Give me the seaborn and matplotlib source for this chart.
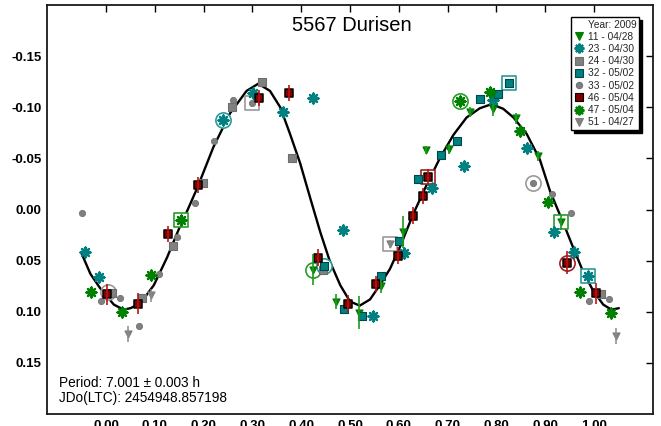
import numpy as np
import pandas as pd
import matplotlib
matplotlib.use("Agg")
import matplotlib.pyplot as plt
import seaborn as sns
from matplotlib.lines import Line2D

# ---------------- data ----------------
title = "5567 Durisen"
legend_title = "Year: 2009"
labels = ["11 - 04/28", "23 - 04/30", "24 - 04/30", "32 - 05/02",
          "33 - 05/02", "46 - 05/04", "47 - 05/04", "51 - 04/27"]

x11 = [0.425, 0.471, 0.518, 0.564, 0.608, 0.655, 0.702, 0.746, 0.794, 0.840, 0.885, 0.933]
y11 = [0.059, 0.090, 0.101, 0.075, 0.022, -0.058, -0.059, -0.095, -0.098, -0.089, -0.052, 0.012]
e11 = [0.015, 0.007, 0.016, 0.007, 0.016, 0.004, 0.005, 0.005, 0.007, 0.005, 0.005, 0.008]

x23 = [-0.044, -0.014, 0.239, 0.301, 0.363, 0.424, 0.485, 0.548, 0.610, 0.669, 0.733, 0.794,
       0.862, 0.919, 0.959, 0.988]
y23 = [0.042, 0.066, -0.088, -0.114, -0.095, -0.109, 0.020, 0.104, 0.043, -0.021, -0.043, -0.107,
       -0.060, 0.022, 0.042, 0.065]

x24 = [0.012, 0.074, 0.137, 0.198, 0.258, 0.320, 0.382, 0.444, 1.014]
y24 = [0.082, 0.087, 0.036, -0.026, -0.100, -0.125, -0.050, 0.059, 0.083]

x32 = [0.447, 0.488, 0.525, 0.564, 0.601, 0.640, 0.686, 0.720, 0.766, 0.804, 0.826]
y32 = [0.055, 0.097, 0.104, 0.065, 0.031, -0.030, -0.053, -0.067, -0.108, -0.113, -0.124]

x33 = [-0.049, -0.010, 0.029, 0.068, 0.108, 0.145, 0.183, 0.222, 0.260, 0.300, 0.876, 0.915,
       0.953, 0.990, 1.030]
y33 = [0.003, 0.089, 0.087, 0.114, 0.063, 0.027, -0.006, -0.067, -0.107, -0.104, -0.026, -0.015,
       0.003, 0.089, 0.088]

x46 = [0.002, 0.066, 0.126, 0.188, 0.313, 0.374, 0.434, 0.496, 0.553, 0.599, 0.630, 0.650,
       0.659, 0.945, 1.005]
y46 = [0.083, 0.092, 0.024, -0.024, -0.109, -0.114, 0.047, 0.092, 0.073, 0.045, 0.006, -0.013,
       -0.032, 0.052, 0.082]
e46 = [0.010, 0.010, 0.008, 0.008, 0.008, 0.008, 0.008, 0.008, 0.008, 0.008, 0.008, 0.008,
       0.008, 0.011, 0.010]

x47 = [-0.030, 0.033, 0.093, 0.154, 0.725, 0.787, 0.848, 0.906, 0.971, 1.035]
y47 = [0.081, 0.100, 0.064, 0.010, -0.106, -0.115, -0.077, -0.007, 0.081, 0.101]

x51 = [0.045, 0.092, 0.582, 1.046]
y51 = [0.122, 0.084, 0.034, 0.124]
e51 = [0.008, 0.006, 0.004, 0.008]

# first-point rings
ring_x = [0.239, 0.300, 0.154, 0.725, 0.826, 0.876, 0.659, 0.582, 0.933, 0.945, 0.988, 0.425, 0.447, 0.004]
ring_y = [-0.088, -0.104, 0.010, -0.106, -0.124, -0.026, -0.032, 0.034, 0.012, 0.052, 0.065, 0.059, 0.055, 0.081]
ring_session = ["23", "33", "47", "47", "32", "33", "46", "51", "11", "46", "23", "11", "32", "24"]
ring_shape = ["o", "s", "s", "o", "s", "o", "s", "s", "s", "o", "s", "o", "o", "o"]

# fitted curve
curve_x = [-0.051, -0.032, -0.012, 0.016, 0.036, 0.050, 0.070, 0.098, 0.125, 0.152, 0.162, 0.186,
           0.220, 0.254, 0.288, 0.312, 0.336, 0.357, 0.377, 0.398, 0.418, 0.439, 0.459, 0.480,
           0.500, 0.520, 0.541, 0.561, 0.582, 0.602, 0.630, 0.657, 0.684, 0.712, 0.739, 0.766,
           0.790, 0.814, 0.835, 0.862, 0.889, 0.910, 0.937, 0.958, 0.978, 0.999, 1.019, 1.036, 1.051]
curve_y = [0.042, 0.063, 0.077, 0.093, 0.098, 0.0965, 0.092, 0.074, 0.047, 0.016, 0.006, -0.020,
           -0.061, -0.094, -0.116, -0.123, -0.116, -0.100, -0.074, -0.045, -0.012, 0.022, 0.051, 0.074,
           0.090, 0.094, 0.088, 0.074, 0.058, 0.037, 0.004, -0.024, -0.050, -0.073, -0.090, -0.099,
           -0.103, -0.0985, -0.090, -0.074, -0.049, -0.018, 0.013, 0.038, 0.061, 0.080, 0.093, 0.098, 0.0965]

xticks = [0.0, 0.1, 0.2, 0.3, 0.4, 0.5, 0.6, 0.7, 0.8, 0.9, 1.0]
xticklabels = ["0.00", "0.10", "0.20", "0.30", "0.40", "0.50", "0.60", "0.70", "0.80", "0.90", "1.00"]
yticks = [-0.15, -0.10, -0.05, 0.0, 0.05, 0.10, 0.15]
yticklabels = ["-0.15", "-0.10", "-0.05", "0.00", "0.05", "0.10", "0.15"]
period_text = "Period: 7.001 \u00b1 0.003 h"
epoch_text = "JDo(LTC): 2454948.857198"

# ---------------- styling ----------------
GREEN = "#008000"
TEAL = "#008080"
GREY = "#808080"
RED = "#800000"
AST = (8, 2, 0)

style = {
    "11": dict(marker="v", color=GREEN, edge=GREEN, s=26, lw=0.8),
    "23": dict(marker=AST, color=TEAL, edge=TEAL, s=50, lw=1.7),
    "24": dict(marker="s", color=GREY, edge="#6e6e6e", s=34, lw=0.8),
    "32": dict(marker="s", color=TEAL, edge="#004848", s=32, lw=0.8),
    "33": dict(marker="o", color=GREY, edge="#707070", s=20, lw=0.6),
    "46": dict(marker="s", color=RED, edge="black", s=34, lw=1.1),
    "47": dict(marker=AST, color=GREEN, edge=GREEN, s=50, lw=1.7),
    "51": dict(marker="v", color=GREY, edge=GREY, s=26, lw=0.8),
}
ring_color = {"11": "#2a9a2a", "23": "#2a9a9a", "24": "#9a9a9a", "32": "#2a9a9a",
              "33": "#9a9a9a", "46": "#a02020", "47": "#2a9a2a", "51": "#9a9a9a"}

sns.set_theme(style="white")
plt.rcParams["font.family"] = ["Liberation Sans", "DejaVu Sans"]

fig = plt.figure(figsize=(6.61, 4.26), dpi=100)
ax = fig.add_axes([47 / 661, 12 / 426, 606 / 661, 409 / 426])

# curve
sns.lineplot(x=curve_x, y=curve_y, sort=False, estimator=None, color="black",
             linewidth=1.7, ax=ax, zorder=2)

data = {
    "11": (x11, y11), "23": (x23, y23), "24": (x24, y24), "32": (x32, y32),
    "33": (x33, y33), "46": (x46, y46), "47": (x47, y47), "51": (x51, y51),
}

# rings
rdf = pd.DataFrame({"x": ring_x, "y": ring_y, "sess": ring_session, "shape": ring_shape})
for (sess, shp), g in rdf.groupby(["sess", "shape"]):
    ax.scatter(g["x"], g["y"], marker=shp, s=105 if shp == "s" else 120, facecolors="white",
               edgecolors=ring_color[sess], linewidths=1.2, zorder=3)

for key, (xs, ys) in data.items():
    st = style[key]
    df = pd.DataFrame({"x": xs, "y": ys})
    kws = dict(marker=st["marker"], color=st["color"], s=st["s"], linewidth=st["lw"],
               legend=False, ax=ax, zorder=4)
    if st["marker"] != AST:
        kws["edgecolor"] = st["edge"]
    sns.scatterplot(data=df, x="x", y="y", **kws)

# error bars (drawn on top like the reference)
ax.errorbar(x11, y11, yerr=e11, fmt="none", ecolor="#1f9a1f", elinewidth=1.2, zorder=5)
ax.errorbar(x46, y46, yerr=e46, fmt="none", ecolor="#c01010", elinewidth=1.2, zorder=5)
ax.errorbar(x51, y51, yerr=e51, fmt="none", ecolor="#8a8a8a", elinewidth=1.1, zorder=5)

ax.set_xlim(-0.121, 1.121)
ax.set_ylim(0.2, -0.2)
ax.set_xticks(xticks)
ax.set_xticklabels(xticklabels)
ax.set_yticks(yticks)
ax.set_yticklabels(yticklabels)
ax.set_xlabel("")
ax.set_ylabel("")
ax.tick_params(direction="in", length=5, width=1, top=True, right=True,
               labelsize=9.5, colors="black", pad=4)
for lbl in ax.get_xticklabels() + ax.get_yticklabels():
    lbl.set_fontweight("bold")
for sp in ax.spines.values():
    sp.set_color("#1a1a1a")
    sp.set_linewidth(1.3)
    sp.set_visible(True)

ax.text(0.503, 0.951, title, transform=ax.transAxes, ha="center", va="center",
        fontsize=14.5, color="black")
ax.text(0.020, 0.076, period_text, transform=ax.transAxes, ha="left", va="center",
        fontsize=9.8, color="black")
ax.text(0.020, 0.039, epoch_text, transform=ax.transAxes, ha="left", va="center",
        fontsize=9.8, color="black")

# legend
handles = [Line2D([], [], linestyle="none", marker=None)]
leg_labels = [legend_title]
for key, lab in zip(data.keys(), labels):
    st = style[key]
    if st["marker"] == AST:
        h = Line2D([], [], linestyle="none", marker=st["marker"], color=st["color"],
                   markersize=7, markeredgewidth=1.6)
    else:
        h = Line2D([], [], linestyle="none", marker=st["marker"], markerfacecolor=st["color"],
                   markeredgecolor=st["edge"], markersize=5.5 if st["marker"] != "o" else 4.5,
                   markeredgewidth=0.8)
    handles.append(h)
    leg_labels.append(lab)

leg = ax.legend(handles, leg_labels, loc="upper right",
                bbox_to_anchor=(639 / 661, 1 - 17 / 426), bbox_transform=fig.transFigure,
                fontsize=7.3, frameon=True, fancybox=False, framealpha=1,
                edgecolor="black", shadow={"color": "black", "alpha": 1},
                labelspacing=0.22, handlelength=1.0, handletextpad=0.4,
                borderpad=0.25, borderaxespad=0)
leg.get_frame().set_linewidth(1.0)
leg.set_zorder(10)

fig.savefig("out.png", dpi=100)
